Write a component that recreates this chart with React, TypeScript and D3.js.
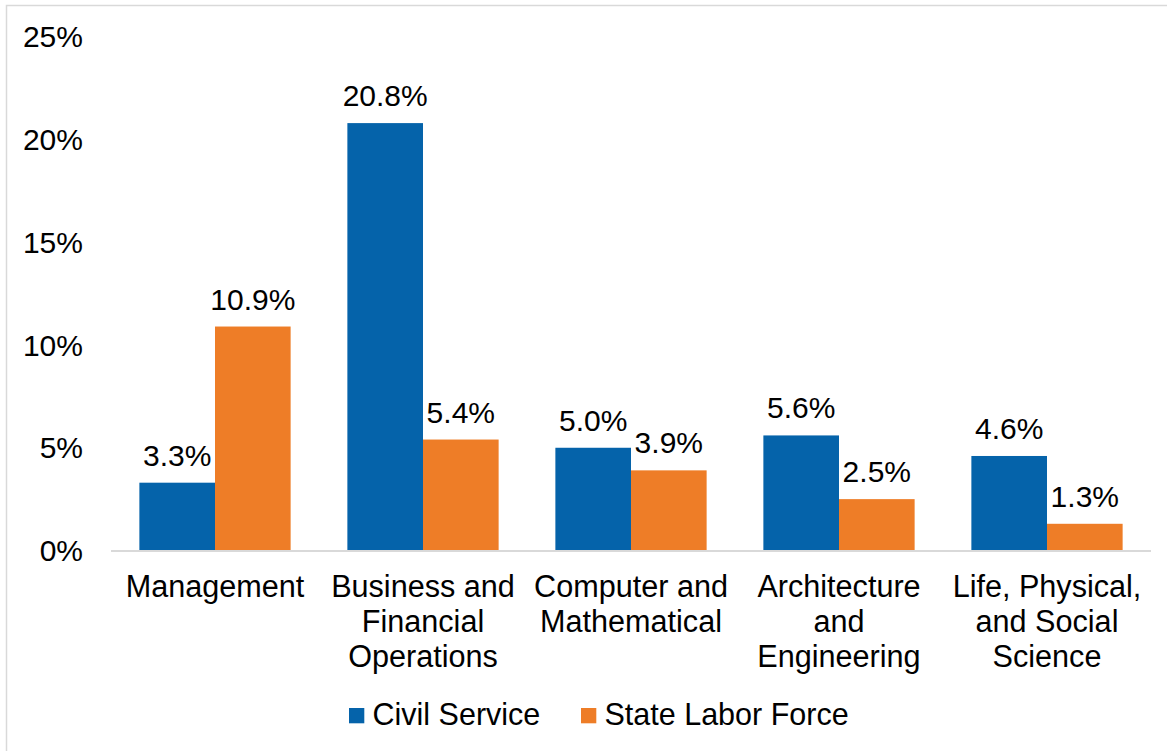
import React from 'react';
import * as d3 from 'd3';

const categories = [
  'Management',
  'Business and Financial Operations',
  'Computer and Mathematical',
  'Architecture and Engineering',
  'Life, Physical, and Social Science',
];
const categoryLines = [
  ['Management'],
  ['Business and', 'Financial', 'Operations'],
  ['Computer and', 'Mathematical'],
  ['Architecture', 'and', 'Engineering'],
  ['Life, Physical,', 'and Social', 'Science'],
];
const seriesNames = ['Civil Service', 'State Labor Force'];
const civilService = [3.3, 20.8, 5.0, 5.6, 4.6];
const stateLaborForce = [10.9, 5.4, 3.9, 2.5, 1.3];
const yTicks = [0, 5, 10, 15, 20, 25];

const colors = ['#0563aa', '#ee7d27'];
const FONT = '"Liberation Sans", Arial, sans-serif';

const App: React.FC = () => {
  const width = 1167;
  const height = 751;
  const left = 111;
  const right = 1151;
  const top = 36.8;
  const bottom = 550.5;

  const x = d3.scaleBand().domain(categories).range([left, right]).paddingInner(0).paddingOuter(0);
  const barW = x.bandwidth() * 0.3636;
  const y = d3.scaleLinear().domain([0, 25]).range([bottom, top]);
  const series = [civilService, stateLaborForce];

  return (
    <svg
      width={width}
      height={height}
      style={{ position: 'absolute', left: 0, top: 0, background: '#fff' }}
      fontFamily={FONT}
    >
      <rect x={6.5} y={5.5} width={width + 10} height={height + 10} fill="#fff" stroke="#d9d9d9" strokeWidth={1.5} />

      {yTicks.map((t) => (
        <text key={t} x={83} y={y(t)} dy="0.35em" textAnchor="end" fontSize={30} fill="#000">
          {t}%
        </text>
      ))}

      {categories.map((c, i) => {
        const cx = (x(c) || 0) + x.bandwidth() / 2;
        return (
          <g key={c}>
            {series.map((vals, s) => {
              const bx = cx - barW + s * barW;
              const v = vals[i];
              return (
                <g key={s}>
                  <rect x={bx} y={y(v)} width={barW} height={y(0) - y(v)} fill={colors[s]} />
                  <text
                    x={bx + barW / 2}
                    y={y(v) - 17}
                    textAnchor="middle"
                    fontSize={30}
                    fill="#000"
                  >
                    {v.toFixed(1)}%
                  </text>
                </g>
              );
            })}
            {categoryLines[i].map((line, k) => (
              <text key={k} x={cx} y={597 + k * 35} textAnchor="middle" fontSize={30.6} fill="#000">
                {line}
              </text>
            ))}
          </g>
        );
      })}

      <line x1={left} x2={right} y1={bottom + 0.5} y2={bottom + 0.5} stroke="#d9d9d9" strokeWidth={2} />

      {seriesNames.map((name, s) => {
        const lx = s === 0 ? 349 : 581;
        return (
          <g key={name}>
            <rect x={lx} y={708} width={15.3} height={15.3} fill={colors[s]} />
            <text x={lx + 23.5} y={725} fontSize={30.5} fill="#000">
              {name}
            </text>
          </g>
        );
      })}
    </svg>
  );
};

export default App;
